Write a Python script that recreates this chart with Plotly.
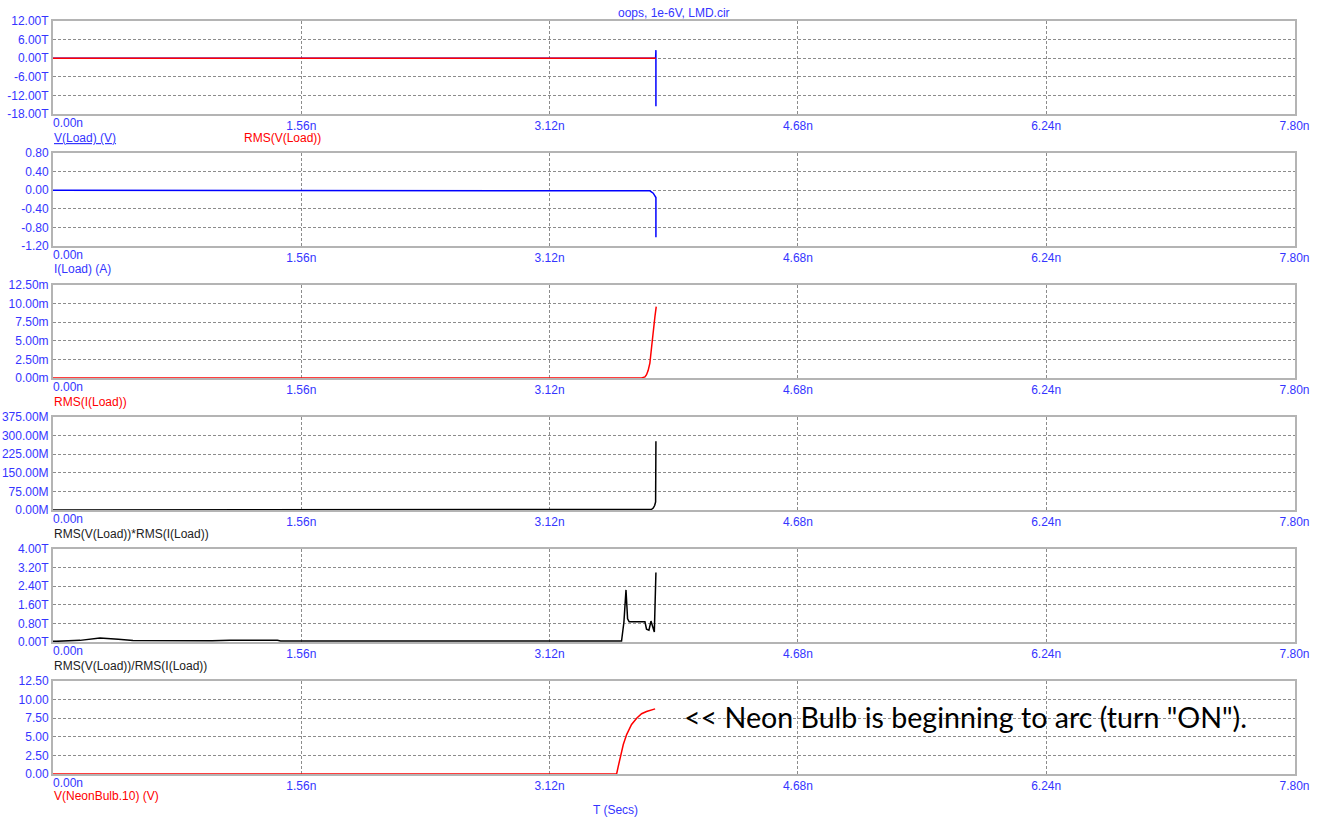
import plotly.graph_objects as go

# Time axis in ns
x_ticks = [0.0, 1.56, 3.12, 4.68, 6.24, 7.80]
x_ticktext = ["", "1.56n", "3.12n", "4.68n", "6.24n", "7.80n"]

# Panel 1: V(Load) and RMS(V(Load)), values in T
t_vload = [0.0, 3.786, 3.788, 3.788]
v_load_T = [0.0, 0.0, 2.6, -15.5]
t_rms_vload = [0.0, 3.788]
rms_vload_T = [0.0, 0.0]

# Panel 2: I(Load) in A
t_iload = [0.0, 3.729, 3.750, 3.771, 3.788, 3.788]
i_load_A = [0.0, 0.0, -0.014, -0.064, -0.157, -1.01]

# Panel 3: RMS(I(Load)) in m
t_rms_iload = [0.0, 3.698, 3.719, 3.729, 3.739, 3.750, 3.761, 3.771, 3.782, 3.790]
rms_iload_m = [0.0, 0.0, 0.15, 0.45, 1.0, 2.0, 4.2, 6.5, 8.3, 9.6]

# Panel 4: RMS(V)*RMS(I) in M
t_power = [0.0, 3.750, 3.761, 3.771, 3.780, 3.786, 3.788]
power_M = [0.0, 0.0, 3.0, 8.0, 18.0, 33.0, 277.0]

# Panel 5: RMS(V)/RMS(I) in T
t_ratio = [0.0, 0.023, 0.17, 0.295, 0.41, 0.503, 1.0, 1.11, 1.41, 1.43, 3.572,
           3.578, 3.587, 3.600, 3.604, 3.610, 3.620, 3.667, 3.719, 3.729, 3.744,
           3.757, 3.767, 3.778, 3.788]
ratio_T = [0.03, 0.03, 0.07, 0.17, 0.12, 0.06, 0.05, 0.07, 0.07, 0.04, 0.04,
           0.5, 0.86, 2.24, 1.6, 1.0, 0.87, 0.87, 0.87, 0.55, 0.51,
           0.9, 0.63, 0.43, 2.99]

# Panel 6: V(NeonBulb.10) in V
t_neon = [0.0, 3.541, 3.551, 3.562, 3.583, 3.604, 3.635, 3.667, 3.698, 3.729, 3.761, 3.783]
v_neon = [0.0, 0.0, 1.0, 1.96, 3.97, 5.3, 6.65, 7.5, 8.1, 8.4, 8.66, 8.75]

# Y-axis scales per panel
y_ranges = [(-18, 12), (-1.2, 0.8), (0, 12.5), (0, 375), (0, 4), (0, 12.5)]
y_steps = [6, 0.4, 2.5, 75, 0.8, 2.5]
y_suffix = ["T", "", "m", "M", "T", ""]

BLUE = "#0000ff"
RED = "#ff0000"
BLACK = "#000000"
LABEL_BLUE = "#3535ff"
FONT = "Liberation Sans, Arial, sans-serif"

W, H = 1323, 823
X0, X1 = 53, 1294.5
TOP0, PANEL_H, PITCH = 21, 93, 132

traces = [
    (0, t_vload, v_load_T, BLUE),
    (0, t_rms_vload, rms_vload_T, RED),
    (1, t_iload, i_load_A, BLUE),
    (2, t_rms_iload, rms_iload_m, RED),
    (3, t_power, power_M, BLACK),
    (4, t_ratio, ratio_T, BLACK),
    (5, t_neon, v_neon, RED),
]

fig = go.Figure()
for idx, tx, vy, col in traces:
    sfx = "" if idx == 0 else str(idx + 1)
    fig.add_trace(go.Scatter(x=tx, y=vy, mode="lines", xaxis="x" + sfx, yaxis="y" + sfx,
                             line=dict(color=col, width=1.5), showlegend=False,
                             hoverinfo="skip"))

layout = dict(width=W, height=H,
              margin=dict(l=0, r=0, t=0, b=0, pad=0, autoexpand=False),
              paper_bgcolor="white", plot_bgcolor="white", showlegend=False)

annotations = []
for i in range(6):
    sfx = "" if i == 0 else str(i + 1)
    top = TOP0 + i * PITCH
    bot = top + PANEL_H
    lo, hi = y_ranges[i]
    step = y_steps[i]
    n = int(round((hi - lo) / step))
    yvals = [lo + k * step for k in range(n + 1)]
    ytext = [f"{v:.2f}{y_suffix[i]}" for v in yvals]
    layout["xaxis" + sfx] = dict(
        domain=[X0 / W, X1 / W], range=[0, 7.8], anchor="y" + sfx,
        tickvals=x_ticks, ticktext=x_ticktext, ticks="", ticklabelstandoff=0,
        tickfont=dict(family=FONT, size=12, color=LABEL_BLUE),
        showgrid=True, gridcolor="#8c8c8c", griddash="3px,2px", gridwidth=1,
        showline=True, linecolor="#b4b4b4", linewidth=2, mirror=True,
        zeroline=False, layer="below traces", automargin=False)
    layout["yaxis" + sfx] = dict(
        domain=[1 - bot / H, 1 - top / H], range=[lo, hi], anchor="x" + sfx,
        tickvals=yvals, ticktext=ytext, ticks="", ticklabelstandoff=0,
        tickfont=dict(family=FONT, size=12, color=LABEL_BLUE),
        showgrid=True, gridcolor="#8c8c8c", griddash="3px,2px", gridwidth=1,
        showline=True, linecolor="#b4b4b4", linewidth=2, mirror=True,
        zeroline=False, layer="below traces", automargin=False)
    # leading x tick label sits to the right of its tick
    annotations.append(dict(x=0, y=1 - (bot + 9) / H, xref="x" + sfx, yref="paper",
                            text="0.00n", showarrow=False, xanchor="left",
                            yanchor="middle", borderpad=0, xshift=-1,
                            font=dict(family=FONT, size=12, color=LABEL_BLUE)))


def label(text, px, py, color, anchor="left", size=12, family=FONT):
    annotations.append(dict(x=px / W, y=1 - py / H, xref="paper", yref="paper",
                            text=text, showarrow=False, xanchor=anchor,
                            yanchor="middle", font=dict(family=family, size=size,
                                                        color=color)))


label("oops, 1e-6V, LMD.cir", 674, 13, LABEL_BLUE, anchor="center")
label("<u>V(Load) (V)</u>", 52, 138, LABEL_BLUE)
label("RMS(V(Load))", 242, 138, RED)
label("I(Load) (A)", 52, 269, LABEL_BLUE)
label("RMS(I(Load))", 52, 402, RED)
label("RMS(V(Load))*RMS(I(Load))", 52, 534, "#222222")
label("RMS(V(Load))/RMS(I(Load))", 52, 666, "#222222")
label("V(NeonBulb.10) (V)", 52, 796, RED)
label("T (Secs)", 615, 810, LABEL_BLUE, anchor="center")
label("&lt;&lt; Neon Bulb is beginning to arc (turn \"ON\").", 682, 717, BLACK,
      size=28.6, family="Lato, sans-serif")

layout["annotations"] = annotations
fig.update_layout(**layout)
fig.write_html("out.html")
